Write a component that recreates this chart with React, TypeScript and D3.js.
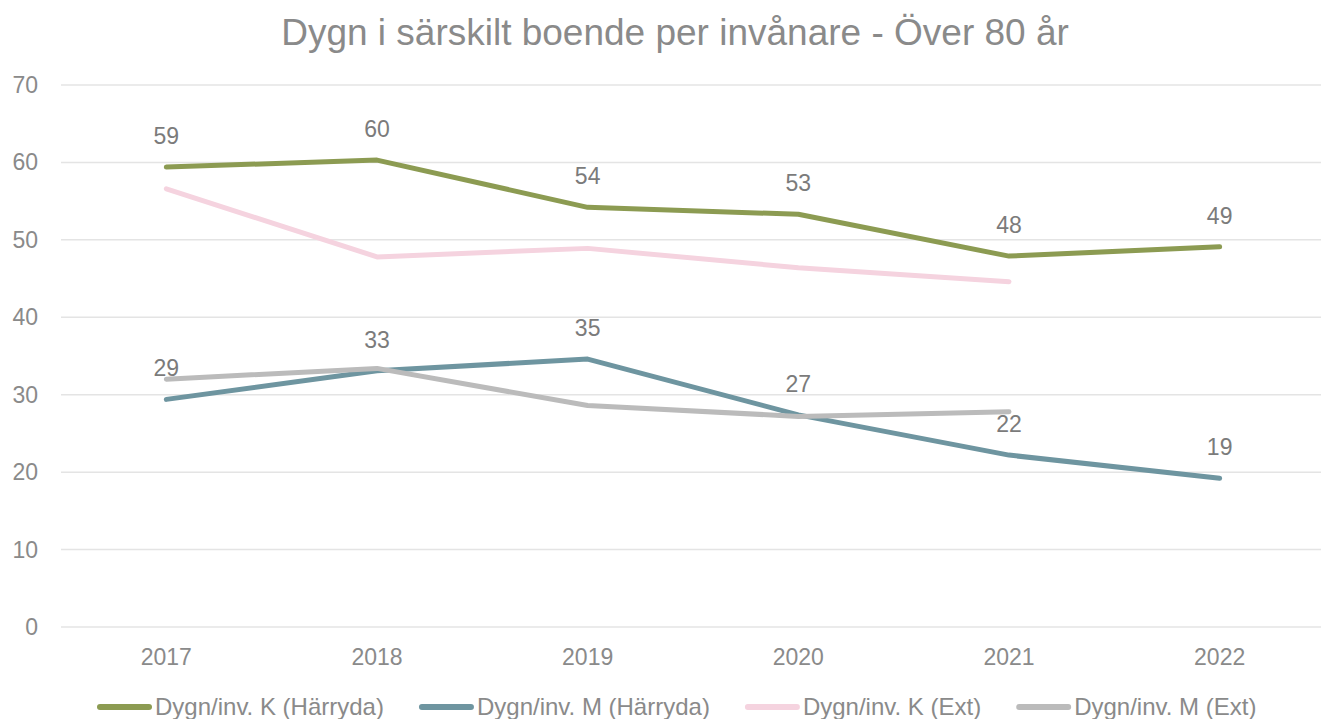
import { useEffect, useRef } from 'react'
import * as d3 from 'd3'

const WIDTH = 1321
const HEIGHT = 719
const MARGIN = { top: 85, right: -4, bottom: 92, left: 61 }
const FONT = '"Liberation Sans", Arial, sans-serif'

const TITLE = 'Dygn i särskilt boende per invånare - Över 80 år'
const YEARS = ['2017', '2018', '2019', '2020', '2021', '2022']
const Y_TICKS = [0, 10, 20, 30, 40, 50, 60, 70]

const K_HARRYDA = [59.4, 60.3, 54.2, 53.3, 47.9, 49.1]
const M_HARRYDA = [29.4, 33.1, 34.6, 27.4, 22.2, 19.2]
const K_EXT = [56.6, 47.8, 48.9, 46.4, 44.6]
const M_EXT = [32.0, 33.4, 28.6, 27.2, 27.8]

const SERIES = [
  { label: 'Dygn/inv. K (Härryda)', values: K_HARRYDA, color: '#8c9b52', showLabels: true },
  { label: 'Dygn/inv. M (Härryda)', values: M_HARRYDA, color: '#6e95a0', showLabels: true },
  { label: 'Dygn/inv. K (Ext)', values: K_EXT, color: '#f5d3df', showLabels: false },
  { label: 'Dygn/inv. M (Ext)', values: M_EXT, color: '#bbbbbb', showLabels: false },
]

export default function App() {
  const svgRef = useRef<SVGSVGElement>(null)

  useEffect(() => {
    const svgEl = svgRef.current
    if (!svgEl) return
    const svg = d3.select(svgEl)
    svg.selectAll('*').remove()

    const innerWidth = WIDTH - MARGIN.left - MARGIN.right
    const innerHeight = HEIGHT - MARGIN.top - MARGIN.bottom

    const x = d3.scaleBand<string>().domain(YEARS).range([0, innerWidth])
    const y = d3.scaleLinear([0, 70], [innerHeight, 0])
    const cx = (i: number) => (x(YEARS[i]) ?? 0) + x.bandwidth() / 2

    svg.append('rect').attr('width', WIDTH).attr('height', HEIGHT).attr('fill', '#ffffff')

    // ── Title ──────────────────────────────────────────────────────────────
    svg.append('text')
      .attr('x', 675).attr('y', 45)
      .attr('text-anchor', 'middle').attr('font-size', 37).attr('fill', '#8a8a8a')
      .text(TITLE)

    const g = svg.append('g').attr('transform', `translate(${MARGIN.left},${MARGIN.top})`)

    // ── Grid + y ticks ────────────────────────────────────────────────────
    Y_TICKS.forEach(t => {
      g.append('line')
        .attr('x1', 0).attr('x2', innerWidth)
        .attr('y1', y(t)).attr('y2', y(t))
        .attr('stroke', '#e4e4e4').attr('stroke-width', 1.5)
      g.append('text')
        .attr('x', -23).attr('y', y(t) + 8)
        .attr('text-anchor', 'end').attr('font-size', 23).attr('fill', '#8a8a8a')
        .text(t)
    })

    // ── x ticks ───────────────────────────────────────────────────────────
    YEARS.forEach((yr, i) => {
      g.append('text')
        .attr('x', cx(i)).attr('y', innerHeight + 38)
        .attr('text-anchor', 'middle').attr('font-size', 23).attr('fill', '#8a8a8a')
        .text(yr)
    })

    // ── Lines ─────────────────────────────────────────────────────────────
    const line = d3.line<number>().x((_, i) => cx(i)).y(d => y(d))
    SERIES.forEach(s => {
      g.append('path')
        .attr('d', line(s.values) ?? '')
        .attr('fill', 'none').attr('stroke', s.color).attr('stroke-width', 5)
        .attr('stroke-linecap', 'round').attr('stroke-linejoin', 'round')
    })

    // ── Data labels ───────────────────────────────────────────────────────
    SERIES.filter(s => s.showLabels).forEach(s => {
      s.values.forEach((v, i) => {
        g.append('text')
          .attr('x', cx(i)).attr('y', y(v) - 23)
          .attr('text-anchor', 'middle').attr('font-size', 23).attr('fill', '#7b7b7b')
          .text(Math.round(v))
      })
    })

    // ── Legend ────────────────────────────────────────────────────────────
    const legend = svg.append('g').attr('transform', `translate(0,${HEIGHT - 12})`)
    const items = SERIES.map(s => {
      const ig = legend.append('g')
      ig.append('line')
        .attr('x1', 3).attr('x2', 52).attr('y1', 0).attr('y2', 0)
        .attr('stroke', s.color).attr('stroke-width', 6).attr('stroke-linecap', 'round')
      const t = ig.append('text')
        .attr('x', 58).attr('y', 8)
        .attr('font-size', 24).attr('fill', '#8a8a8a')
        .text(s.label)
      const w = 58 + (t.node() as SVGTextElement).getComputedTextLength()
      return { ig, w }
    })
    const gap = 35
    let lx = 97
    items.forEach(it => {
      it.ig.attr('transform', `translate(${lx},0)`)
      lx += it.w + gap
    })
  }, [])

  return (
    <svg
      ref={svgRef}
      width={WIDTH}
      height={HEIGHT}
      style={{ display: 'block', position: 'absolute', left: 0, top: 0, fontFamily: FONT }}
    />
  )
}
